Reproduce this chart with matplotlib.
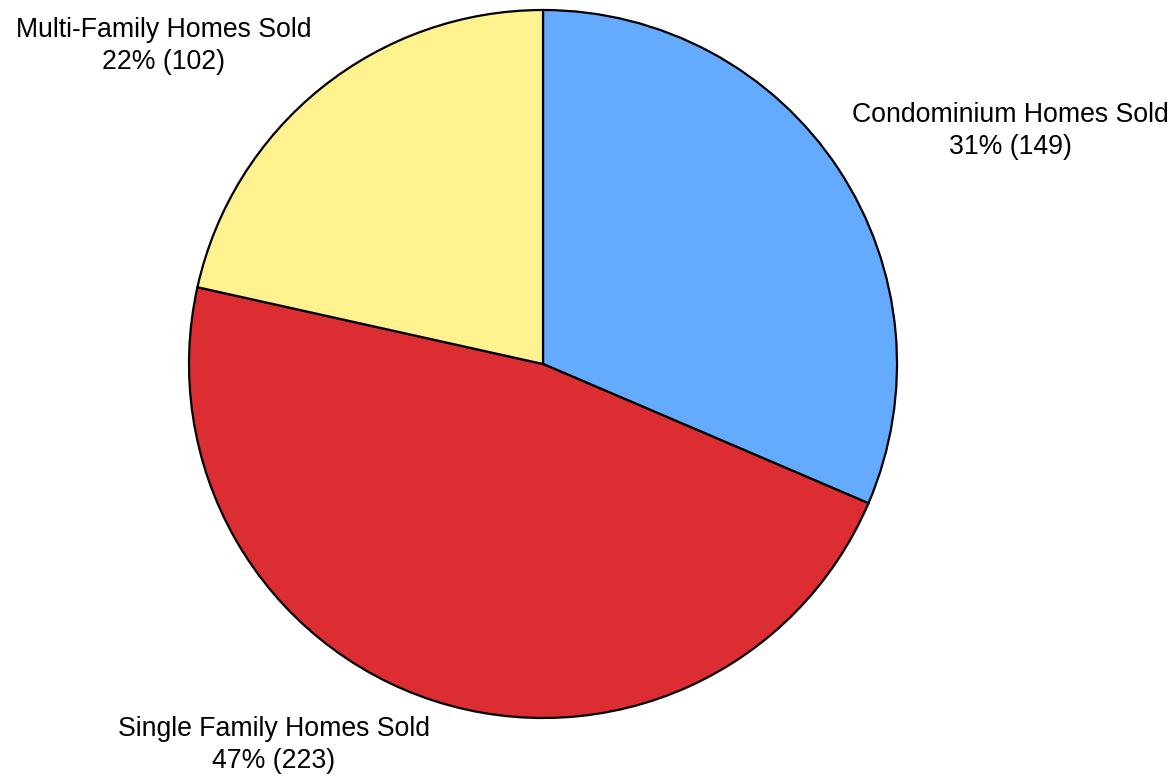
import numpy as np
import matplotlib
matplotlib.use("Agg")
import matplotlib.pyplot as plt

plt.rcParams['font.family'] = ['Liberation Sans', 'DejaVu Sans']

# home sales by type
labels = ["Condominium Homes Sold", "Single Family Homes Sold", "Multi-Family Homes Sold"]
counts = [149, 223, 102]
colors = ["#64aaff", "#dc2d32", "#fff28f"]

fig = plt.figure(figsize=(11.74, 7.83), dpi=100)
# pie centred at (543, 364) px with radius 354 px
cx, cy, r = 543, 364, 354
W, H = 1174, 783
ax = fig.add_axes([(cx - r) / W, (H - cy - r) / H, 2 * r / W, 2 * r / H])

wedges, _ = ax.pie(counts, colors=colors, startangle=90, counterclock=False,
                   wedgeprops=dict(edgecolor="black", linewidth=1.6))
ax.set_xlim(-1, 1)
ax.set_ylim(-1, 1)
ax.set_aspect("auto")
ax.axis("off")

total = sum(counts)
for w, lab, n in zip(wedges, labels, counts):
    ang = np.deg2rad((w.theta1 + w.theta2) / 2)
    x, y = 1.045 * np.cos(ang), 1.045 * np.sin(ang)
    ha = "left" if x > 0 else "right"
    va = "bottom" if y > 0 else "top"
    pct = round(100 * n / total)
    ax.text(x, y, f"{lab}\n{pct}% ({n})", ha=ha, va=va, multialignment="center",
            fontsize=19.2, clip_on=False, linespacing=1.3)

fig.savefig("out.png", dpi=100)
